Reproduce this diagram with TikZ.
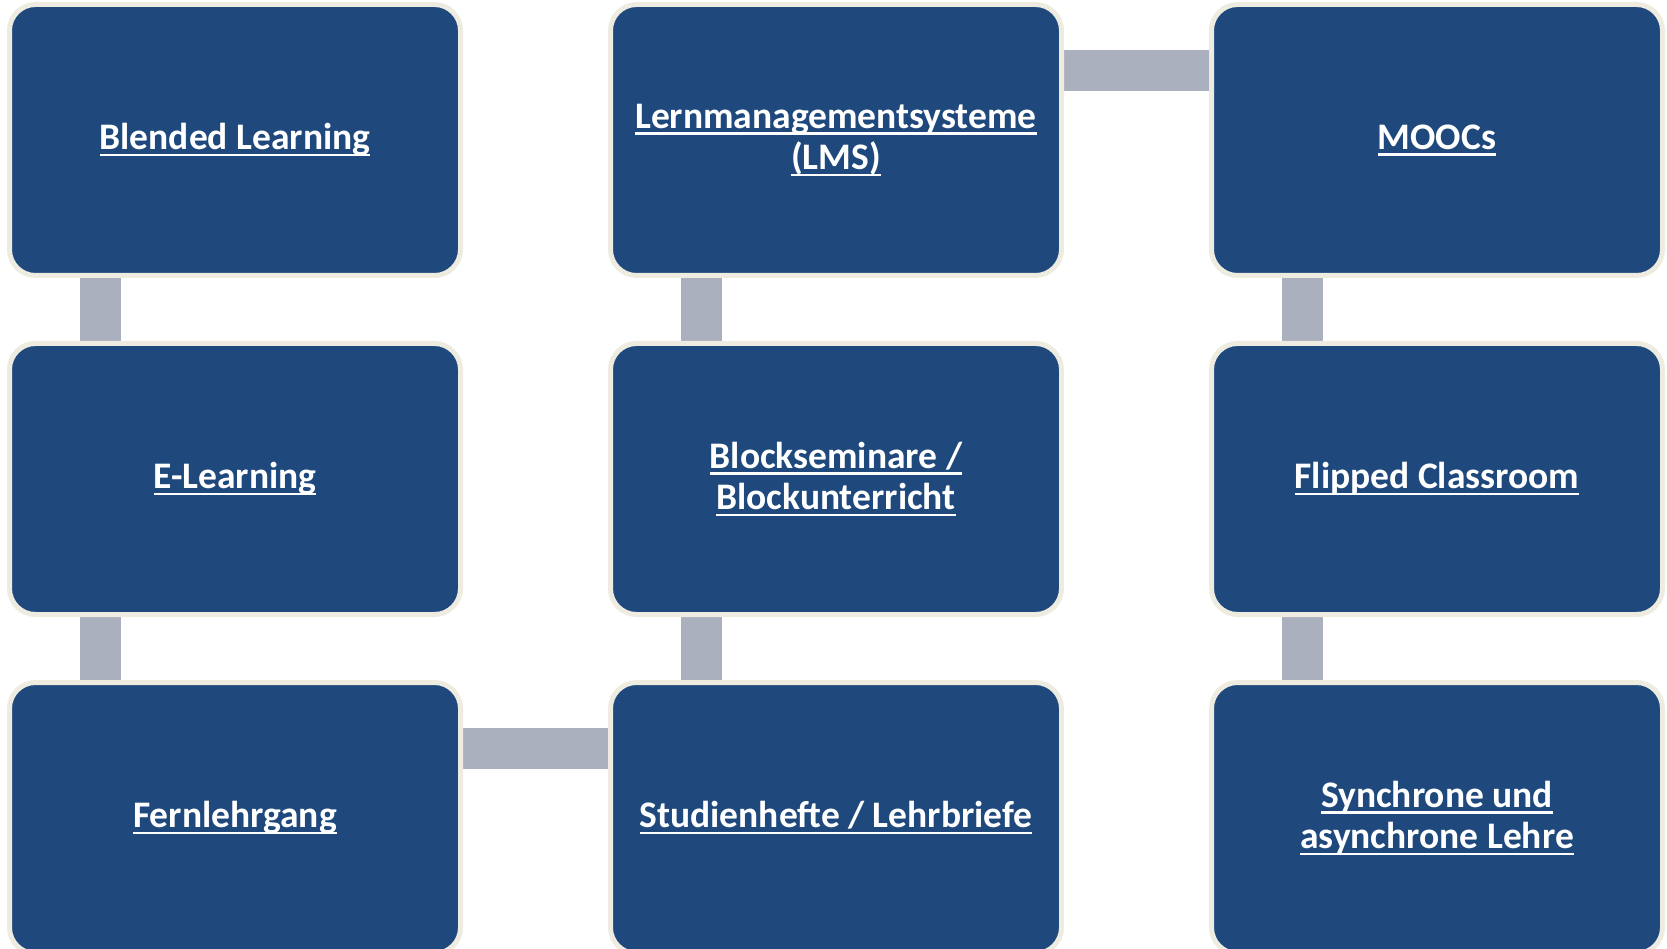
\documentclass[tikz,border=0pt]{standalone}
\usepackage{fontspec}
\setmainfont{Carlito}
\usetikzlibrary{backgrounds}

\definecolor{boxblue}{RGB}{31,73,125}
\definecolor{boxrim}{RGB}{238,236,225}
\definecolor{linkgray}{RGB}{170,176,190}

\newcommand{\uln}[1]{\setbox0\hbox{#1}\rlap{\rule[-6.5pt]{\wd0}{2.4pt}}\box0}

\tikzset{every picture/.style={line width=0.75pt}}
\tikzset{
  topic/.style={draw=boxrim, line width=5pt, fill=boxblue, rounded corners=26pt,
    minimum width=451pt, minimum height=271pt, inner sep=0pt,
    text=white, align=center, font=\fontsize{37.5}{41.5}\selectfont\bfseries},
  link/.style={draw=linkgray, line width=41pt}
}

\begin{document}
\begin{tikzpicture}[x=1pt,y=1pt,yscale=-1,xscale=1]
\useasboundingbox (0,0) rectangle (1667,949);

% Box Nodes
\node [topic] (blend) at (235,140) {\uln{Blended Learning}};
\node [topic] (lms) at (836,140) {\uln{Lernmanagementsysteme}\\\uln{(LMS)}};
\node [topic] (moocs) at (1437,140) {\uln{MOOCs}};
\node [topic] (elearn) at (235,479) {\uln{E-Learning}};
\node [topic] (block) at (836,479) {\uln{Blockseminare /}\\\uln{Blockunterricht}};
\node [topic] (flipped) at (1437,479) {\uln{Flipped Classroom}};
\node [topic] (fern) at (235,818) {\uln{Fernlehrgang}};
\node [topic] (hefte) at (836,818) {\uln{Studienhefte / Lehrbriefe}};
\node [topic] (sync) at (1437,818) {\uln{Synchrone und}\\\uln{asynchrone Lehre}};

\begin{pgfonlayer}{background}
%Straight Lines
\draw [link] (blend.south west -| 100,0) -- (elearn.north west -| 100,0);
\draw [link] (elearn.south west -| 100,0) -- (fern.north west -| 100,0);
\draw [link] (fern.east |- 0,748.5) -- (hefte.west |- 0,748.5);
\draw [link] (hefte.north west -| 701,0) -- (block.south west -| 701,0);
\draw [link] (block.north west -| 701,0) -- (lms.south west -| 701,0);
\draw [link] (lms.east |- 0,70.5) -- (moocs.west |- 0,70.5);
\draw [link] (moocs.south west -| 1302.5,0) -- (flipped.north west -| 1302.5,0);
\draw [link] (flipped.south west -| 1302.5,0) -- (sync.north west -| 1302.5,0);
\end{pgfonlayer}
\end{tikzpicture}
\end{document}
